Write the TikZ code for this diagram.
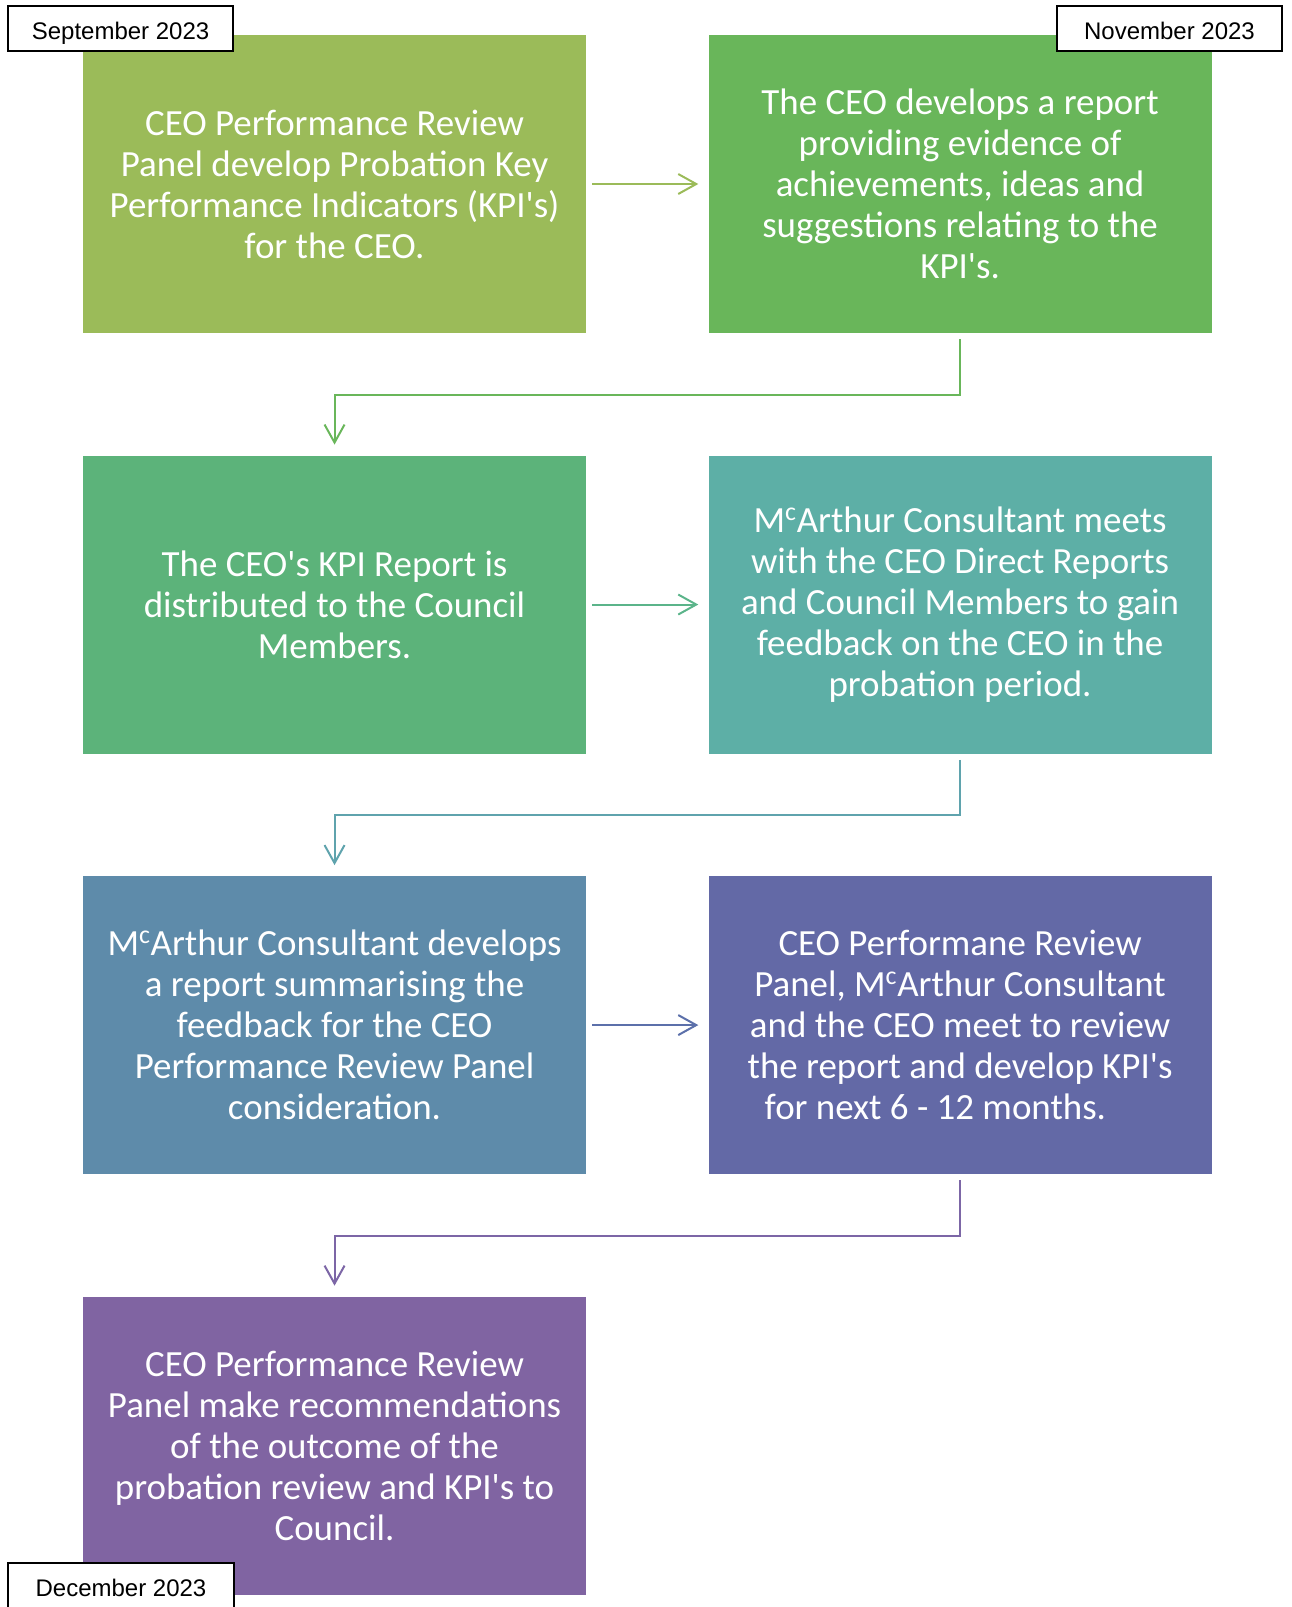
\documentclass[tikz,border=0pt]{standalone}
\usepackage{fontspec}
\usepackage{xcolor}
\usepackage{tikz}
\usetikzlibrary{positioning, arrows.meta}
\newfontfamily\boxfont{Carlito}
\newfontfamily\datefont{Liberation Sans}
\definecolor{stepA}{HTML}{9BBB59}
\definecolor{stepB}{HTML}{69B65A}
\definecolor{stepC}{HTML}{5CB37A}
\definecolor{stepD}{HTML}{5DAFA6}
\definecolor{stepE}{HTML}{5E8BAA}
\definecolor{stepF}{HTML}{6369A6}
\definecolor{stepG}{HTML}{8064A2}
\definecolor{arrA}{HTML}{9BBB59}
\definecolor{arrB}{HTML}{69B65A}
\definecolor{arrC}{HTML}{5BB48A}
\definecolor{arrD}{HTML}{5FA3AD}
\definecolor{arrE}{HTML}{5C70AA}
\definecolor{arrF}{HTML}{7C66A6}

\begin{document}
\begin{tikzpicture}[
node distance=91.5pt and 91.5pt,
every node/.style={align=center},
boxstyle/.style={minimum width=377.25pt, minimum height=223.5pt, inner sep=0pt, text=white,
  font=\boxfont\fontsize{27.7}{30.75}\selectfont},
datebox/.style={draw, line width=1.3pt, fill=white, minimum width=169pt, minimum height=33.75pt,
  inner sep=0pt, text height=16.2pt, text depth=0pt, font=\datefont\fontsize{18}{20}\selectfont},
flow/.style={line width=1.5pt, -{Straight Barb[length=13.5pt, width=15pt]}, shorten <=4.5pt, shorten >=7.5pt},
elbow/.style={flow, shorten >=8pt}
]
\useasboundingbox (0,0) rectangle (969pt,-1205.25pt);
% Row 1
\node[boxstyle, fill=stepA] (kpi) at (250.9pt,-138pt) {CEO Performance Review\\Panel develop Probation Key\\Performance Indicators (KPI\textquotesingle s)\\for the CEO.};
\node[boxstyle, fill=stepB, right=of kpi] (report) {The CEO develops a report\\providing evidence of\\achievements, ideas and\\suggestions relating to the\\KPI\textquotesingle s.};
\draw[flow, arrA] (kpi) -- (report);
% Row 2
\node[boxstyle, fill=stepC, below=of kpi] (distrib) {The CEO\textquotesingle s KPI Report is\\distributed to the Council\\Members.};
\node[boxstyle, fill=stepD, right=of distrib] (meets) {M\textsuperscript{c}Arthur Consultant meets\\with the CEO Direct Reports\\and Council Members to gain\\feedback on the CEO in the\\probation period.};
\draw[elbow, arrB] (report.south) -- ++(0,-46pt) -| (distrib.north);
\draw[flow, arrC] (distrib) -- (meets);
% Row 3
\node[boxstyle, fill=stepE, below=of distrib] (summary) {M\textsuperscript{c}Arthur Consultant develops\\a report summarising the\\feedback for the CEO\\Performance Review Panel\\consideration.};
\node[boxstyle, fill=stepF, right=of summary] (panel) {CEO Performane Review\\Panel, M\textsuperscript{c}Arthur Consultant\\and the CEO meet to review\\the report and develop KPI\textquotesingle s\\for next 6 - 12 months.\hspace*{37pt}};
\draw[elbow, arrD] (meets.south) -- ++(0,-46pt) -| (summary.north);
\draw[flow, arrE] (summary) -- (panel);
% Row 4
\node[boxstyle, fill=stepG, below=of summary] (council) {CEO Performance Review\\Panel make recommendations\\of the outcome of the\\probation review and KPI\textquotesingle s to\\Council.};
\draw[elbow, arrF] (panel.south) -- ++(0,-46pt) -| (council.north);
% Dates
\node[datebox] (sept) at (90.4pt,-21.4pt) {September 2023};
\node[datebox] (nov) at (877.1pt,-21.4pt) {November 2023};
\node[datebox] (dec) at (90.75pt,-1189.1pt) {December 2023};
\end{tikzpicture}
\end{document}
